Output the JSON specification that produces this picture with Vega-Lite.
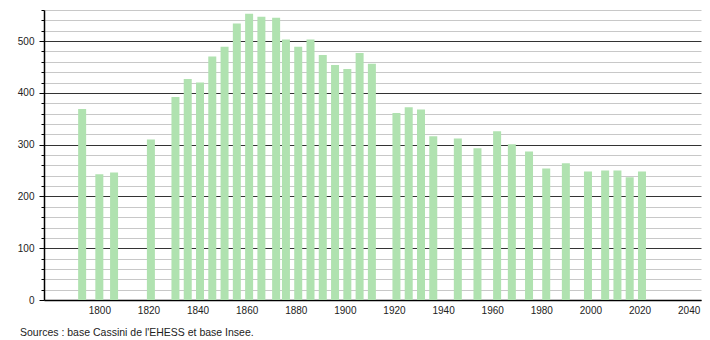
{
  "$schema": "https://vega.github.io/schema/vega-lite/v6.json",
  "width": 657,
  "height": 290,
  "autosize": {"type": "none"},
  "padding": {"left": 44, "top": 10, "right": 9, "bottom": 40},
  "background": "white",
  "title": {
    "text": "Sources : base Cassini de l'EHESS et base Insee.",
    "orient": "bottom",
    "anchor": "start",
    "frame": "group",
    "dx": -24,
    "offset": 13,
    "font": "Liberation Sans",
    "fontSize": 10.5,
    "fontWeight": "normal",
    "color": "#222"
  },
  "data": {
    "values": [
      {"annee": 1793, "population": 369},
      {"annee": 1800, "population": 243},
      {"annee": 1806, "population": 246},
      {"annee": 1821, "population": 310},
      {"annee": 1831, "population": 392},
      {"annee": 1836, "population": 427},
      {"annee": 1841, "population": 420},
      {"annee": 1846, "population": 470},
      {"annee": 1851, "population": 489},
      {"annee": 1856, "population": 534},
      {"annee": 1861, "population": 553},
      {"annee": 1866, "population": 547},
      {"annee": 1872, "population": 545},
      {"annee": 1876, "population": 503},
      {"annee": 1881, "population": 489},
      {"annee": 1886, "population": 503},
      {"annee": 1891, "population": 473},
      {"annee": 1896, "population": 454},
      {"annee": 1901, "population": 446},
      {"annee": 1906, "population": 477},
      {"annee": 1911, "population": 456},
      {"annee": 1921, "population": 361},
      {"annee": 1926, "population": 372},
      {"annee": 1931, "population": 368},
      {"annee": 1936, "population": 316},
      {"annee": 1946, "population": 312},
      {"annee": 1954, "population": 293},
      {"annee": 1962, "population": 326},
      {"annee": 1968, "population": 301},
      {"annee": 1975, "population": 287},
      {"annee": 1982, "population": 254},
      {"annee": 1990, "population": 264},
      {"annee": 1999, "population": 248},
      {"annee": 2006, "population": 250},
      {"annee": 2011, "population": 250},
      {"annee": 2016, "population": 237},
      {"annee": 2021, "population": 248}
    ]
  },
  "mark": {"type": "bar", "size": 8, "color": "#b0e2b0", "orient": "vertical"},
  "encoding": {
    "x": {
      "field": "annee",
      "type": "quantitative",
      "scale": {"domain": [1779.5, 2043], "nice": false, "zero": false},
      "axis": {
        "title": null,
        "values": [1800, 1820, 1840, 1860, 1880, 1900, 1920, 1940, 1960, 1980, 2000, 2020, 2040],
        "format": "d",
        "grid": false,
        "ticks": false,
        "domainColor": "#000",
        "domainWidth": 1.5,
        "labelFont": "Liberation Sans",
        "labelFontSize": 10,
        "labelColor": "#222",
        "labelPadding": 5,
        "labelFlush": false,
        "labelOverlap": false
      }
    },
    "y": {
      "field": "population",
      "type": "quantitative",
      "scale": {"domain": [0, 560], "nice": false},
      "axis": {
        "title": null,
        "values": [0, 20, 40, 60, 80, 100, 120, 140, 160, 180, 200, 220, 240, 260, 280, 300, 320, 340, 360, 380, 400, 420, 440, 460, 480, 500, 520, 540, 560],
        "labelExpr": "datum.value % 100 === 0 ? datum.label : ''",
        "grid": true,
        "gridColor": {"condition": {"test": "datum.value % 100 === 0", "value": "#333"}, "value": "#c8c8c8"},
        "gridWidth": 1,
        "tickColor": "#000",
        "tickSize": {"condition": {"test": "datum.value % 100 === 0", "value": 5}, "value": 3},
        "domainColor": "#000",
        "domainWidth": 1.5,
        "labelFont": "Liberation Sans",
        "labelFontSize": 10,
        "labelColor": "#222",
        "labelPadding": 5,
        "labelOverlap": false
      }
    }
  },
  "config": {"view": {"stroke": null}}
}
